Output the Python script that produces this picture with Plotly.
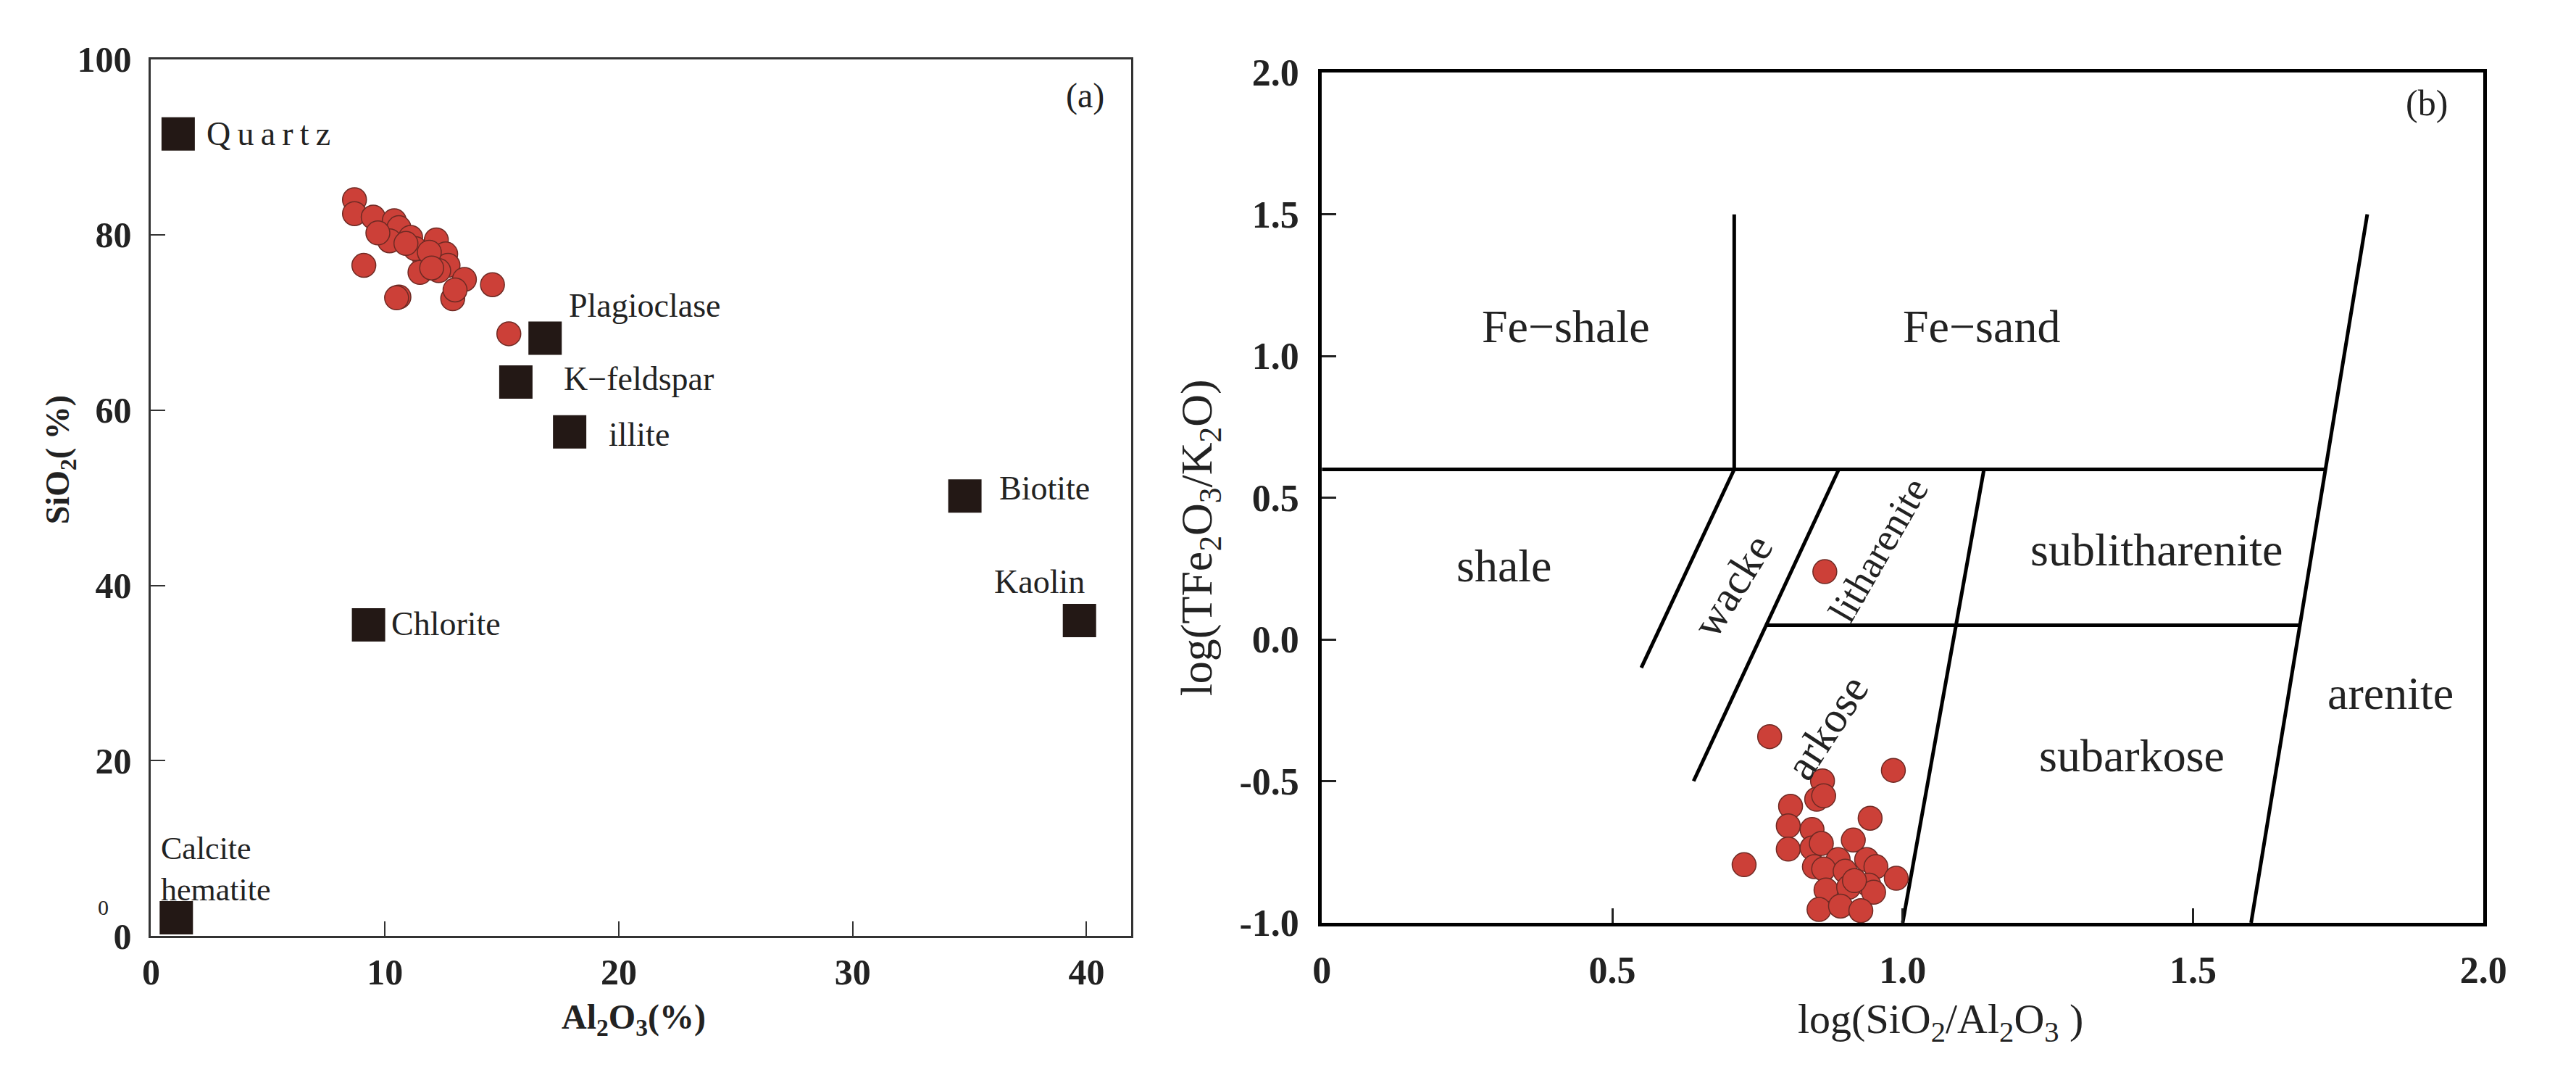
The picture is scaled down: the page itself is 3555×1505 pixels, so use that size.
import plotly.graph_objects as go

# ---------------- data: panel (a) ----------------
a_al2o3 = [8.7, 8.7, 9.5, 10.4, 10.6, 10.2, 9.1, 11.1, 12.2, 11.7, 11.5, 12.6, 12.7,
           13.4, 14.6, 10.6, 12.9, 13.0, 15.3, 9.7, 11.3, 12.3, 10.9, 11.9, 12.0, 10.5]
a_sio2 = [84.0, 82.4, 82.0, 81.6, 80.8, 79.3, 76.5, 79.7, 79.4, 77.3, 75.7, 77.8, 76.5,
          74.9, 74.3, 72.9, 72.7, 73.7, 68.7, 80.2, 78.4, 75.9, 79.0, 78.0, 76.2, 72.8]

mineral_names = ["Quartz", "Plagioclase", "K−feldspar", "illite", "Biotite", "Kaolin",
                 "Chlorite", "Calcite hematite"]
mineral_al2o3 = [1.16, 16.85, 15.6, 17.9, 34.8, 39.7, 9.3, 1.08]
mineral_sio2 = [91.5, 68.2, 63.2, 57.5, 50.2, 36.0, 35.5, 2.1]

# label text, anchor position (data units), horizontal anchor
mineral_label_text = ["Q\u2009u\u2009a\u2009r\u2009t\u2009z", "Plagioclase", "K−feldspar",
                      "illite", "Biotite", "Kaolin", "Chlorite", "Calcite<br>hematite"]
mineral_label_x = [2.3, 17.8, 17.6, 19.5, 36.2, 38.0, 10.2, 0.35]
mineral_label_y = [91.5, 71.9, 63.6, 57.2, 51.1, 40.4, 35.6, 7.6]
mineral_label_anchor = ["left", "left", "left", "left", "left", "center", "left", "left"]
mineral_label_size = [46, 46, 46, 46, 46, 46, 46, 44]

a_xticks = [0, 10, 20, 30, 40]
a_yticks = [0, 20, 40, 60, 80, 100]

# ---------------- data: panel (b) ----------------
b_log_si_al = [0.771, 0.984, 0.862, 0.852, 0.864, 0.807, 0.944, 0.803, 0.844, 0.915,
               0.803, 0.844, 0.860, 0.727, 0.848, 0.889, 0.864, 0.938, 0.954, 0.989,
               0.901, 0.868, 0.907, 0.942, 0.950, 0.856, 0.893, 0.928, 0.917, 0.866]
b_log_fe_k = [-0.343, -0.462, -0.499, -0.564, -0.552, -0.589, -0.631, -0.658, -0.671, -0.708,
              -0.740, -0.736, -0.720, -0.795, -0.802, -0.777, -0.810, -0.777, -0.802, -0.843,
              -0.818, -0.884, -0.875, -0.867, -0.892, -0.953, -0.941, -0.957, -0.851, 0.239]

# classification boundary segments (x0, y0, x1, y1)
boundary_x0 = [0.71, 0.0, 0.55, 0.64, 1.0, 0.765, 1.6]
boundary_y0 = [0.6, 0.6, -0.1, -0.5, -1.0, 0.05, -1.0]
boundary_x1 = [0.71, 1.728, 0.71, 0.89, 1.14, 1.684, 1.8]
boundary_y1 = [1.5, 0.6, 0.6, 0.6, 0.6, 0.05, 1.5]

field_names = ["Fe−shale", "Fe−sand", "shale", "sublitharenite", "subarkose", "arenite",
               "wacke", "litharenite", "arkose"]
field_x = [0.42, 1.136, 0.314, 1.437, 1.395, 1.84, 0.707, 0.958, 0.87]
field_y = [1.105, 1.105, 0.26, 0.315, -0.41, -0.19, 0.19, 0.315, -0.31]
field_angle = [0, 0, 0, 0, 0, 0, -58, -60, -57]
field_size = [64, 64, 64, 64, 64, 64, 60, 54, 60]

b_xticks = [0, 0.5, 1.0, 1.5, 2.0]
b_xticktext = ["0", "0.5", "1.0", "1.5", "2.0"]
b_yticks = [-1.0, -0.5, 0.0, 0.5, 1.0, 1.5, 2.0]
b_yticktext = ["-1.0", "-0.5", "0.0", "0.5", "1.0", "1.5", "2.0"]

# ---------------- figure ----------------
W, H = 3555, 1505
SERIF = "Liberation Serif, Times New Roman, serif"
RED = "#cc4038"
RED_EDGE = "#6e2a24"
SQ = "#231815"
TXT = "#222"

fig = go.Figure()

fig.add_trace(go.Scatter(
    x=a_al2o3, y=a_sio2, mode="markers", xaxis="x", yaxis="y",
    marker=dict(size=33, color=RED, line=dict(color=RED_EDGE, width=1.5)),
    cliponaxis=False, showlegend=False, hoverinfo="skip"))

fig.add_trace(go.Scatter(
    x=mineral_al2o3, y=mineral_sio2, mode="markers", xaxis="x", yaxis="y",
    marker=dict(size=46, symbol="square", color=SQ, line=dict(width=0)),
    text=mineral_names, cliponaxis=False, showlegend=False, hoverinfo="text"))

# boundary lines for panel (b)
lx, ly = [], []
for x0, y0, x1, y1 in zip(boundary_x0, boundary_y0, boundary_x1, boundary_y1):
    lx += [x0, x1, None]
    ly += [y0, y1, None]
fig.add_trace(go.Scatter(
    x=lx, y=ly, mode="lines", xaxis="x2", yaxis="y2",
    line=dict(color="black", width=5), showlegend=False, hoverinfo="skip"))

fig.add_trace(go.Scatter(
    x=b_log_si_al, y=b_log_fe_k, mode="markers", xaxis="x2", yaxis="y2",
    marker=dict(size=33, color=RED, line=dict(color=RED_EDGE, width=1.5)),
    cliponaxis=False, showlegend=False, hoverinfo="skip"))

annotations = []
for t, x, y, anc, fs in zip(mineral_label_text, mineral_label_x, mineral_label_y,
                            mineral_label_anchor, mineral_label_size):
    annotations.append(dict(text=t, x=x, y=y, xref="x", yref="y", xanchor=anc,
                            yanchor="middle", showarrow=False, align="left",
                            font=dict(family=SERIF, size=fs, color=TXT)))
for t, x, y, ang, fs in zip(field_names, field_x, field_y, field_angle, field_size):
    annotations.append(dict(text=t, x=x, y=y, xref="x2", yref="y2", xanchor="center",
                            yanchor="middle", showarrow=False, textangle=ang,
                            font=dict(family=SERIF, size=fs, color=TXT)))


def paper_text(text, px, py, size, angle=0):
    return dict(text=text, x=px / W, y=1 - py / H, xref="paper", yref="paper",
                xanchor="center", yanchor="middle", showarrow=False, textangle=angle,
                font=dict(family=SERIF, size=size, color=TXT))


annotations += [
    paper_text("(a)", 1504, 108, 48),
    paper_text("(b)", 3380, 118, 50),
    paper_text("<b>SiO<sub>2</sub>( %)</b>", 71, 630, 46, -90),
    paper_text("<b>Al<sub>2</sub>O<sub>3</sub>(%)</b>", 873, 1432, 48),
    paper_text("log(TFe<sub>2</sub>O<sub>3</sub>/K<sub>2</sub>O)", 1664, 742, 62, -90),
    paper_text("log(SiO<sub>2</sub>/Al<sub>2</sub>O<sub>3</sub> )", 2700, 1436, 58),
    paper_text("0", 131, 1272, 30),
]

axis_common = dict(showgrid=False, zeroline=False, ticks="inside", ticklen=20,
                   mirror=True, showline=True)

fig.update_layout(
    width=W, height=H, autosize=False,
    margin=dict(l=0, r=0, t=0, b=0),
    paper_bgcolor="white", plot_bgcolor="white",
    xaxis=dict(domain=[198 / W, 1568 / W], range=[0, 41.9], anchor="y",
               tickvals=a_xticks, linecolor="#333", linewidth=3, tickwidth=2,
               tickcolor="#333", ticklabelstandoff=4,
               tickfont=dict(family=SERIF, size=50, color=TXT, weight="bold"),
               **axis_common),
    yaxis=dict(domain=[1 - 1313 / H, 1 - 56 / H], range=[0, 100], anchor="x",
               tickvals=a_yticks, linecolor="#333", linewidth=3, tickwidth=2,
               tickcolor="#333", ticklabelstandoff=14,
               tickfont=dict(family=SERIF, size=50, color=TXT, weight="bold"),
               **axis_common),
    xaxis2=dict(domain=[1835 / W, 3459 / W], range=[0, 2], anchor="y2",
                tickvals=b_xticks, ticktext=b_xticktext, linecolor="black",
                linewidth=5, tickwidth=3, tickcolor=TXT, ticklabelstandoff=16,
                tickfont=dict(family=SERIF, size=52, color=TXT, weight="bold"),
                **axis_common),
    yaxis2=dict(domain=[1 - 1294 / H, 1 - 75 / H], range=[-1, 2], anchor="x2",
                tickvals=b_yticks, ticktext=b_yticktext, linecolor="black",
                linewidth=5, tickwidth=3, tickcolor=TXT, ticklabelstandoff=16,
                tickfont=dict(family=SERIF, size=52, color=TXT, weight="bold"),
                **axis_common),
    annotations=annotations,
)

fig.write_html("out.html", config={"displayModeBar": False},
               post_script="document.body.style.margin='0';")
